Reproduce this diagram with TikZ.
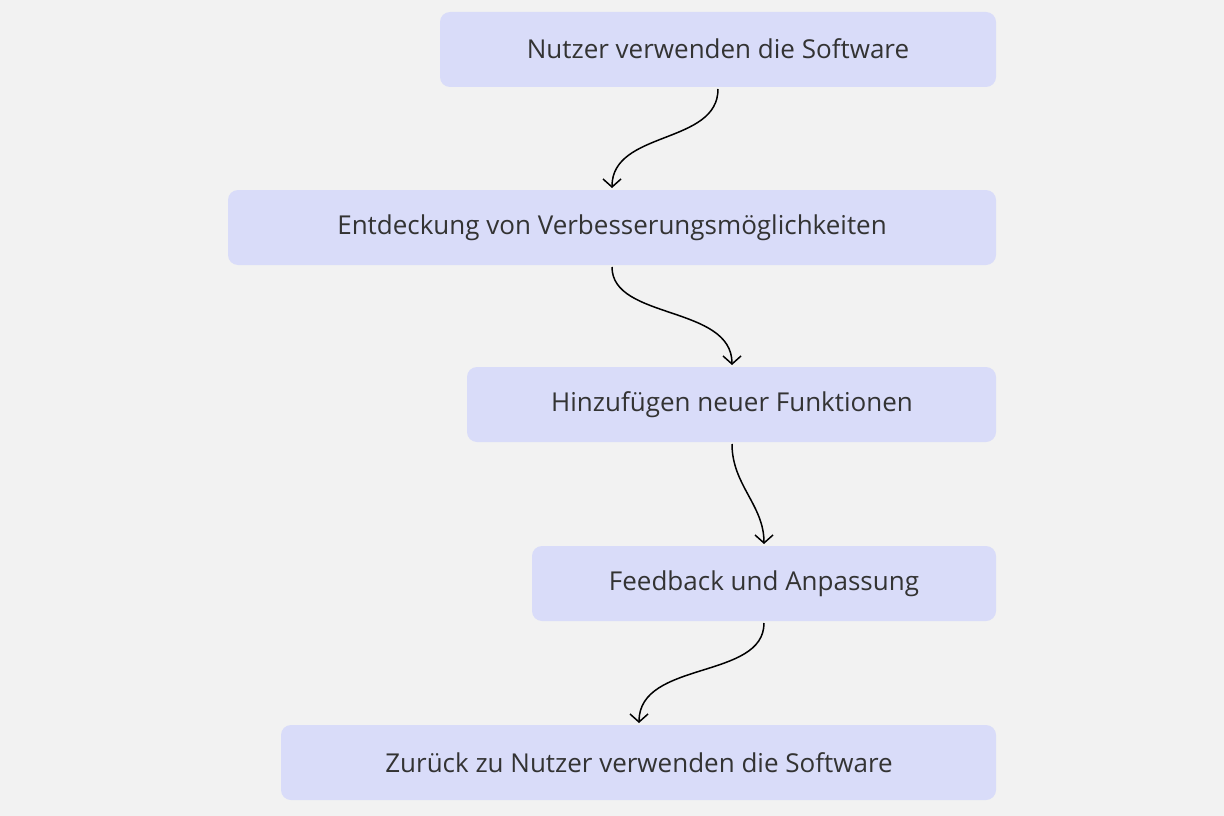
\documentclass[tikz,border=0pt]{standalone}
\usepackage{fontspec}
\setmainfont{Open Sans}
\usetikzlibrary{arrows.meta}
\definecolor{bg}{HTML}{F2F2F2}
\definecolor{boxc}{HTML}{D9DCF9}
\definecolor{txt}{HTML}{333333}
\tikzset{
  stepbox/.style={fill=boxc, rounded corners=10pt, draw=none, inner sep=0pt},
  lbl/.style={text=txt, font=\fontsize{26}{30}\selectfont},
  conn/.style={draw=black, line width=1.5pt, -{Straight Barb[length=8pt,width=18pt,line width=1.5pt]}}
}
\begin{document}
\begin{tikzpicture}[x=1pt,y=-1pt]
\fill[bg] (0,0) rectangle (1224,816);
\useasboundingbox (0,0) rectangle (1224,816);
\fill[stepbox] (440,12) rectangle (996,87);
\fill[stepbox] (228,190) rectangle (996,265);
\fill[stepbox] (467,367) rectangle (996,442);
\fill[stepbox] (532,546) rectangle (996,621);
\fill[stepbox] (281,725) rectangle (996,800);
\node[lbl] (a) at (718,49) {Nutzer verwenden die Software};
\node[lbl] (b) at (612,228) {Entdeckung von Verbesserungsmöglichkeiten};
\node[lbl] (c) at (732,405) {Hinzufügen neuer Funktionen};
\node[lbl] (d) at (764,584) {Feedback und Anpassung};
\node[lbl] (e) at (639,763) {Zurück zu Nutzer verwenden die Software};
\coordinate (a1) at (718,89); \coordinate (b0) at (612,188);
\coordinate (b1) at (612,267); \coordinate (c0) at (732,365);
\coordinate (c1) at (732,444); \coordinate (d0) at (764,544);
\coordinate (d1) at (764,623); \coordinate (e0) at (639,723);
\draw[conn] (a1) .. controls (718,145) and (612,130) .. (b0);
\draw[conn] (b1) .. controls (612,320) and (732,305) .. (c0);
\draw[conn] (c1) .. controls (732,485) and (764,505) .. (d0);
\draw[conn] (d1) .. controls (764,680) and (639,660) .. (e0);
\end{tikzpicture}
\end{document}
